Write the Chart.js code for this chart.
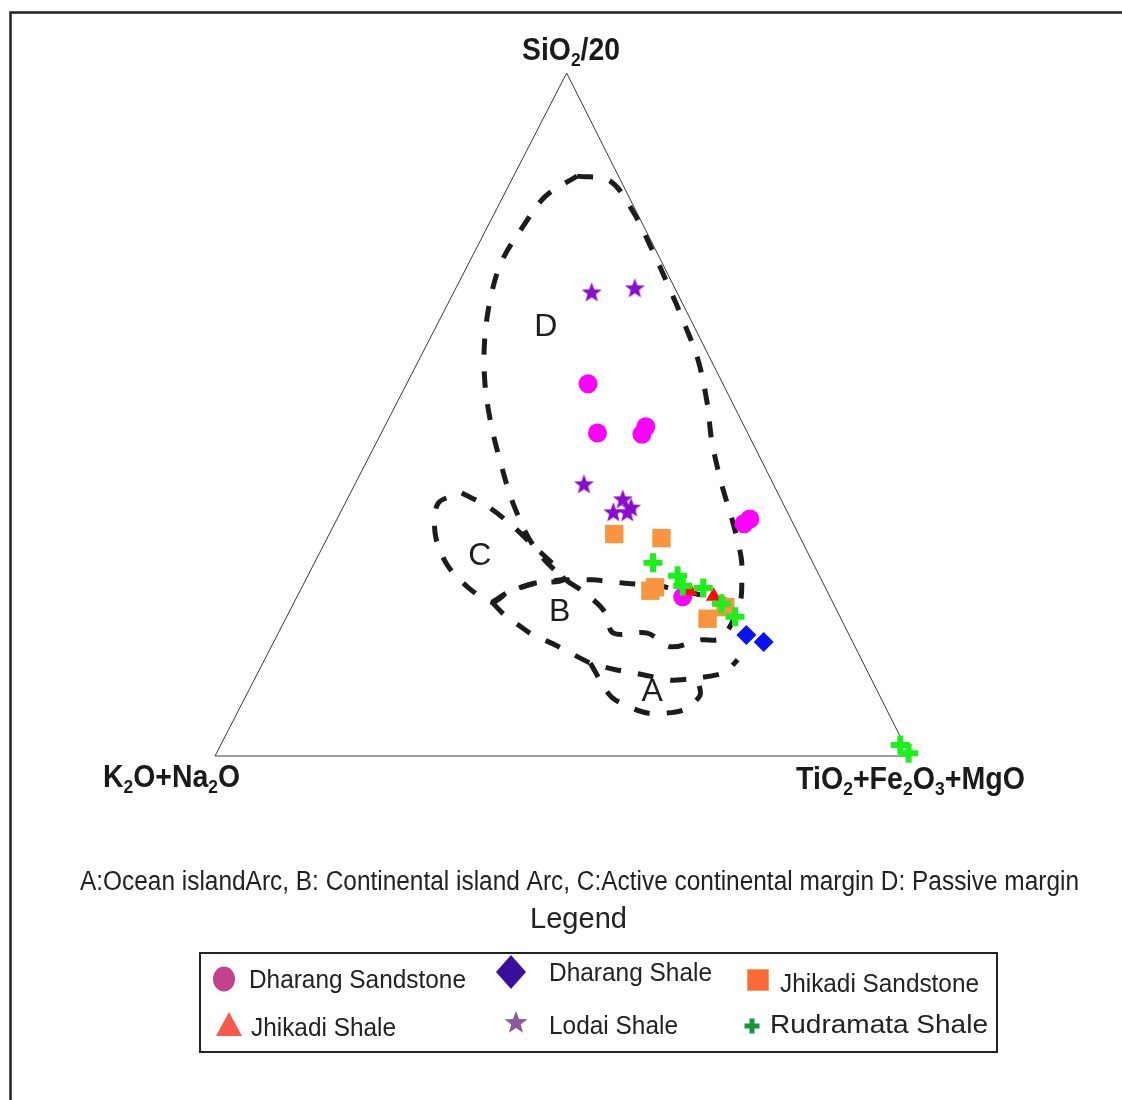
<!DOCTYPE html>
<html>
<head>
<meta charset="utf-8">
<script src="https://cdn.jsdelivr.net/npm/chart.js@4.4.0/dist/chart.umd.min.js"></script>
<style>
  html, body { margin: 0; padding: 0; background: #fff; }
  canvas { display: block; }
</style>
</head>
<body>
<canvas id="ternary" width="1122" height="1100"></canvas>
<script>
// Samples, each as [SiO2/20, K2O+Na2O, TiO2+Fe2O3+MgO] in percent of the sum
const dharangSandstone = [
  [54.5, 19.4, 26.1], [47.3, 21.6, 31.1], [47.1, 15.3, 37.6], [48.2, 14.2, 37.6],
  [34.0, 7.1, 58.9], [34.7, 5.9, 59.4], [23.3, 21.2, 55.5]
];
const dharangShale = [
  [17.7, 14.8, 67.5], [16.7, 12.8, 70.5]
];
const jhikadiSandstone = [
  [32.5, 26.5, 41.0], [31.9, 20.0, 48.1], [24.2, 25.4, 50.4], [24.7, 24.5, 50.8],
  [20.1, 19.2, 60.7], [21.8, 15.8, 62.4]
];
const jhikadiShale = [
  [24.2, 19.7, 56.1], [23.4, 16.7, 59.9]
];
const lodaiShale = [
  [67.8, 12.3, 19.9], [68.4, 5.8, 25.8], [39.7, 27.3, 33.0], [37.5, 22.8, 39.7],
  [36.3, 22.2, 41.5], [35.6, 25.1, 39.3], [35.6, 23.1, 41.3]
];
const rudramataShale = [
  [28.3, 23.0, 48.7], [26.4, 20.4, 53.2], [24.9, 20.4, 54.7], [24.6, 17.6, 57.8],
  [22.3, 16.1, 61.6], [20.4, 15.1, 64.5], [1.6, 0.6, 97.8], [0.4, 0.0, 99.6]
];

const seriesNames = [
  'Dharang Sandstone', 'Dharang Shale', 'Jhikadi Sandstone',
  'Jhikadi Shale', 'Lodai Shale', 'Rudramata Shale'
];

// Tectonic setting fields, outlines in diagram coordinates [base %, height %]
const fieldD = [
  [52.1, 84.9], [56.8, 84.2], [60.1, 79.8], [62.9, 74.1], [65.3, 68.7], [67.5, 63.4],
  [69.5, 58.0], [70.8, 51.8], [71.5, 46.0], [72.9, 39.8], [74.4, 34.6], [75.7, 29.1],
  [75.8, 25.8], [75.5, 22.4], [72.9, 17.3], [69.8, 17.0], [65.5, 16.0], [62.2, 18.0],
  [57.3, 18.0], [56.1, 21.1], [53.2, 23.9], [50.1, 26.1], [46.0, 30.5], [43.0, 36.7],
  [41.0, 43.3], [39.6, 49.2], [38.8, 55.1], [38.8, 60.9], [39.6, 66.8], [41.2, 72.3],
  [44.3, 77.5], [47.6, 82.0], [52.1, 84.9]
];
const fieldC = [
  [35.5, 38.5], [39.3, 36.5], [42.7, 33.8], [46.0, 30.6], [48.9, 27.8], [50.1, 25.8],
  [46.0, 25.3], [42.2, 24.0], [39.9, 22.5], [36.4, 24.7], [33.4, 28.0], [31.7, 32.4],
  [32.1, 37.0], [35.5, 38.5]
];
const fieldBTop = [
  [39.9, 22.5], [42.2, 24.0], [46.0, 25.3], [50.1, 25.8], [54.4, 25.8], [59.0, 25.3],
  [64.0, 24.9], [69.8, 23.6], [75.5, 22.4]
];
const fieldBLower = [
  [39.9, 22.5], [41.4, 20.9], [45.3, 18.0], [48.9, 16.3], [54.0, 13.6], [57.8, 12.6],
  [61.6, 11.9], [65.5, 11.1], [69.4, 11.4], [73.4, 12.2], [75.2, 14.1]
];
const fieldABottom = [
  [54.0, 13.6], [57.1, 8.6], [62.2, 6.3], [67.3, 6.7], [69.8, 8.9], [69.4, 11.4]
];

const fieldLabels = [
  { text: 'D', x: 47.6, y: 62.8 },
  { text: 'C', x: 38.1, y: 29.3 },
  { text: 'B', x: 49.6, y: 21.1 },
  { text: 'A', x: 62.9, y: 9.4 }
];

// apex of the triangle sits slightly right of the base midpoint
const APEX_X = 50.6;

function toXY(p) {
  return { x: p[2] + p[0] * APEX_X / 100, y: p[0] };
}
function outline(pts) {
  return pts.map(p => ({ x: p[0], y: p[1] }));
}

function makeStar(r, color) {
  const c = document.createElement('canvas');
  const s = Math.ceil(r * 2) + 2;
  c.width = s; c.height = s;
  const g = c.getContext('2d');
  g.fillStyle = color;
  g.beginPath();
  for (let i = 0; i < 10; i++) {
    const rr = i % 2 ? r * 0.42 : r;
    const a = -Math.PI / 2 + i * Math.PI / 5;
    g.lineTo(s / 2 + rr * Math.cos(a), s / 2 + rr * Math.sin(a));
  }
  g.closePath();
  g.fill();
  return c;
}

const FONT = '"Liberation Sans", Arial, Helvetica, sans-serif';

function dashed(pts, tension) {
  return {
    type: 'scatter', data: outline(pts), showLine: true, tension: tension,
    borderColor: '#1c1c1c', borderWidth: 5, borderDash: [16, 17], borderCapStyle: 'butt',
    pointRadius: 0, fill: false, order: 20, clip: false
  };
}

function pointSet(label, rows, style, order) {
  return Object.assign({
    type: 'scatter', label: label, data: rows.map(toXY), order: order, clip: false,
    pointHoverRadius: 0
  }, style);
}

// draws text pieces (with subscripts) squeezed to a given width
function richText(ctx, parts, left, baseline, targetW, size, weight, color) {
  const widths = [];
  let total = 0;
  parts.forEach(p => {
    ctx.font = weight + ' ' + (p.sub ? Math.round(size * 0.6) : size) + 'px ' + FONT;
    const w = ctx.measureText(p.t).width;
    widths.push(w); total += w;
  });
  ctx.save();
  ctx.fillStyle = color;
  ctx.textAlign = 'left';
  ctx.textBaseline = 'alphabetic';
  ctx.translate(left, baseline);
  ctx.scale(targetW / total, 1);
  let cx = 0;
  parts.forEach((p, i) => {
    ctx.font = weight + ' ' + (p.sub ? Math.round(size * 0.6) : size) + 'px ' + FONT;
    ctx.fillText(p.t, cx, p.sub ? size * 0.2 : 0);
    cx += widths[i];
  });
  ctx.restore();
}
function split(str) {
  // "_2" marks a subscript digit
  const parts = [];
  let buf = '';
  for (let i = 0; i < str.length; i++) {
    if (str[i] === '_') {
      if (buf) parts.push({ t: buf });
      buf = '';
      parts.push({ t: str[i + 1], sub: true });
      i++;
    } else buf += str[i];
  }
  if (buf) parts.push({ t: buf });
  return parts;
}

const legendLayout = [
  { marker: 'circle',   color: '#c4418b', mx: 224, my: 979,  tx: 249, tb: 988,  tw: 217 },
  { marker: 'diamond',  color: '#3a0f9e', mx: 511, my: 972,  tx: 549, tb: 981,  tw: 163 },
  { marker: 'square',   color: '#fc6a38', mx: 758, my: 980,  tx: 780, tb: 992,  tw: 199 },
  { marker: 'triangle', color: '#f8594b', mx: 229, my: 1025, tx: 251, tb: 1036, tw: 145 },
  { marker: 'star',     color: '#8c5a9e', mx: 516, my: 1023, tx: 549, tb: 1034, tw: 129 },
  { marker: 'cross',    color: '#16963c', mx: 752, my: 1026, tx: 770, tb: 1033, tw: 218 }
];

function drawMarker(ctx, m) {
  ctx.save();
  ctx.fillStyle = m.color;
  ctx.beginPath();
  const x = m.mx, y = m.my;
  switch (m.marker) {
    case 'circle':
      ctx.ellipse(x, y, 11, 12.5, 0, 0, Math.PI * 2); ctx.fill(); break;
    case 'diamond':
      ctx.moveTo(x, y - 17); ctx.lineTo(x + 15, y); ctx.lineTo(x, y + 17); ctx.lineTo(x - 15, y);
      ctx.closePath(); ctx.fill(); break;
    case 'square':
      ctx.rect(x - 10.5, y - 10.5, 21, 21); ctx.fill();
      ctx.strokeStyle = '#f0a060'; ctx.lineWidth = 1; ctx.stroke(); break;
    case 'triangle':
      ctx.moveTo(x, y - 13); ctx.lineTo(x + 13, y + 11); ctx.lineTo(x - 13, y + 11);
      ctx.closePath(); ctx.fill(); break;
    case 'star':
      ctx.drawImage(makeStar(12, m.color), x - 13, y - 13); break;
    case 'cross':
      ctx.rect(x - 7.5, y - 2.5, 15, 5); ctx.rect(x - 2.5, y - 7.5, 5, 15); ctx.fill(); break;
  }
  ctx.restore();
}

const decorations = {
  id: 'decorations',
  afterDraw(chart) {
    const ctx = chart.ctx;
    const xs = chart.scales.x, ys = chart.scales.y;

    // page frame
    ctx.save();
    ctx.strokeStyle = '#222';
    ctx.lineWidth = 2.5;
    ctx.beginPath();
    ctx.moveTo(10.5, 1100); ctx.lineTo(10.5, 12.5); ctx.lineTo(1122, 12.5);
    ctx.stroke();
    ctx.restore();

    // field letters
    ctx.save();
    ctx.fillStyle = '#1e1e1e';
    ctx.font = '32px ' + FONT;
    ctx.textAlign = 'center';
    ctx.textBaseline = 'middle';
    fieldLabels.forEach(l => ctx.fillText(l.text, xs.getPixelForValue(l.x), ys.getPixelForValue(l.y)));
    ctx.restore();

    // apex titles
    richText(ctx, split('SiO_2/20'), 522, 60, 98, 31, 'bold', '#1a1a1a');
    richText(ctx, split('K_2O+Na_2O'), 103, 787, 137, 31, 'bold', '#1a1a1a');
    richText(ctx, split('TiO_2+Fe_2O_3+MgO'), 796, 789, 229, 31, 'bold', '#1a1a1a');

    // field key and legend heading
    richText(ctx, [{ t: 'A:Ocean islandArc, B: Continental island Arc, C:Active continental margin D: Passive margin' }],
      80, 890, 999, 27, 'normal', '#222');
    richText(ctx, [{ t: 'Legend' }], 530, 928, 97, 29, 'normal', '#222');

    // legend box
    ctx.save();
    ctx.strokeStyle = '#222';
    ctx.lineWidth = 2;
    ctx.strokeRect(200, 953, 797, 99);
    ctx.restore();
    legendLayout.forEach((m, i) => {
      drawMarker(ctx, m);
      richText(ctx, [{ t: seriesNames[i] }], m.tx, m.tb, m.tw, 26, 'normal', '#222');
    });
  }
};

const starImg = makeStar(10.5, '#8a0ccc');

new Chart(document.getElementById('ternary'), {
  type: 'scatter',
  data: {
    datasets: [
      pointSet(seriesNames[5], rudramataShale, {
        pointStyle: 'cross', pointRadius: 9.5, pointBorderWidth: 6,
        pointBorderColor: '#1cf01c', pointBackgroundColor: '#1cf01c'
      }, 1),
      pointSet(seriesNames[3], jhikadiShale, {
        pointStyle: 'triangle', pointRadius: 9, pointBorderWidth: 0,
        pointBackgroundColor: '#ff0a0a', pointBorderColor: '#ff0a0a'
      }, 2),
      pointSet(seriesNames[2], jhikadiSandstone, {
        pointStyle: 'rect', pointRadius: 13, pointBorderWidth: 0,
        pointBackgroundColor: '#f8953e', pointBorderColor: '#f8953e'
      }, 3),
      pointSet(seriesNames[0], dharangSandstone, {
        pointStyle: 'circle', pointRadius: 9.5, pointBorderWidth: 0,
        pointBackgroundColor: '#ff00ff', pointBorderColor: '#ff00ff'
      }, 4),
      pointSet(seriesNames[1], dharangShale, {
        pointStyle: 'rectRot', pointRadius: 10, pointBorderWidth: 0,
        pointBackgroundColor: '#0812f2', pointBorderColor: '#0812f2'
      }, 5),
      pointSet(seriesNames[4], lodaiShale, {
        pointStyle: starImg, pointRadius: 10
      }, 6),
      dashed(fieldD, 0.35), dashed(fieldC, 0.3), dashed(fieldBTop, 0.15),
      dashed(fieldBLower, 0.15), dashed(fieldABottom, 0.25),
      {
        type: 'scatter',
        data: [{ x: 0, y: 0 }, { x: 100, y: 0 }, { x: APEX_X, y: 100 }, { x: 0, y: 0 }],
        showLine: true, borderColor: '#3a3a3a', borderWidth: 1, pointRadius: 0,
        order: 30, clip: false
      }
    ]
  },
  options: {
    responsive: false,
    devicePixelRatio: 1,
    animation: false,
    events: [],
    layout: { padding: { left: 215, right: 212, top: 73, bottom: 344 } },
    scales: {
      x: { type: 'linear', min: 0, max: 100, display: false },
      y: { type: 'linear', min: 0, max: 100, display: false }
    },
    plugins: {
      legend: { display: false },
      tooltip: { enabled: false }
    }
  },
  plugins: [decorations]
});
</script>
</body>
</html>
